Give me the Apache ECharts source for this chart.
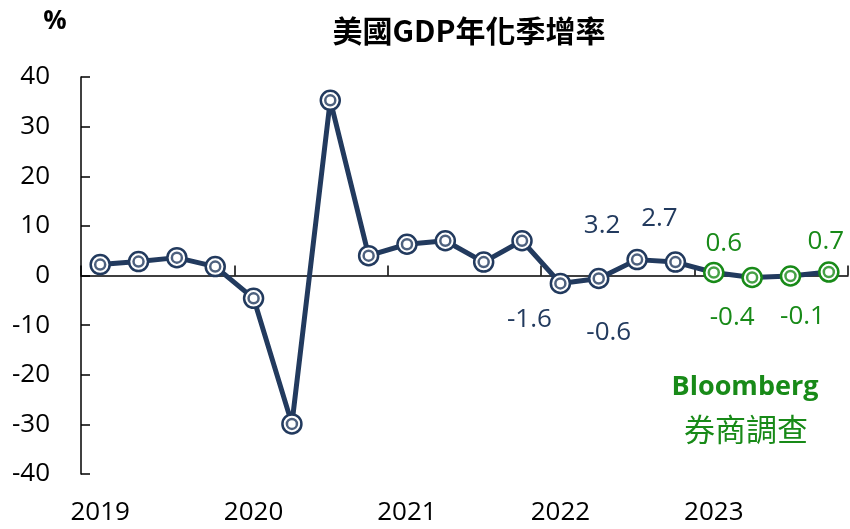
<!DOCTYPE html>
<html>
<head>
<meta charset="utf-8">
<script src="https://cdn.jsdelivr.net/npm/echarts@6/dist/echarts.min.js"></script>
<style>
  html, body { margin: 0; padding: 0; background: #fff; }
  #chart { width: 850px; height: 529px; }
</style>
</head>
<body>
<div id="chart"></div>
<script>
// quarters 2019Q1 .. 2023Q4
const quarters = [
  '2019Q1','2019Q2','2019Q3','2019Q4',
  '2020Q1','2020Q2','2020Q3','2020Q4',
  '2021Q1','2021Q2','2021Q3','2021Q4',
  '2022Q1','2022Q2','2022Q3','2022Q4',
  '2023Q1','2023Q2','2023Q3','2023Q4'
];
// annualized q/q growth, %
const growth = [2.2, 2.8, 3.6, 1.8, -4.6, -29.9, 35.3, 4.0, 6.3, 7.0, 2.7, 7.0,
  -1.6, -0.6, 3.2, 2.7, 0.6, -0.4, -0.1, 0.7];
const forecastFrom = 16;   // Bloomberg survey from 2023Q1
const labelled = [12, 13, 14, 15, 16, 17, 18, 19];
const labelOffsets = {12: [-31, 36], 13: [10, 54], 14: [-35, -34], 15: [-16, -44],
  16: [10, -29], 17: [-20, 40], 18: [12, 41], 19: [-3, -30]};

const NAVY = '#223a5e';
const GREEN = '#188a18';
const FONT = '"Open Sans", sans-serif';
const CJK = '"Noto Sans CJK TC", sans-serif';

const colorOf = (i) => i >= forecastFrom ? GREEN : NAVY;

const outerData = growth.map((v, i) => {
  const d = { value: v, itemStyle: { color: '#fff', borderColor: colorOf(i), borderWidth: 2.5 } };
  if (labelled.includes(i)) {
    d.label = {
      show: true, position: 'inside', offset: labelOffsets[i],
      formatter: String(v), color: colorOf(i),
      fontSize: 26, fontFamily: FONT
    };
  }
  return d;
});
const innerData = growth.map((v, i) => ({
  value: v, itemStyle: { color: '#fff', borderColor: colorOf(i), borderWidth: 2.5 }
}));

const myChart = echarts.init(document.getElementById('chart'));
const option = {
  animation: false,
  grid: { left: 81, right: 2, top: 77, bottom: 55, containLabel: false },
  xAxis: [
    {
      type: 'category', data: quarters, position: 'bottom', boundaryGap: true,
      axisLine: { show: false, onZero: false },
      axisTick: { show: false },
      axisLabel: {
        interval: 3, formatter: (v) => v.slice(0, 4),
        color: '#000', fontSize: 26, fontFamily: FONT, lineHeight: 26, margin: 26
      }
    },
    {
      type: 'category', data: quarters, position: 'bottom', boundaryGap: true,
      axisLine: { show: true, onZero: true, lineStyle: { color: '#000', width: 1.5 } },
      axisTick: { show: true, inside: true, length: 10, interval: 3, lineStyle: { color: '#000', width: 1.5 } },
      axisLabel: { show: false }
    }
  ],
  yAxis: {
    type: 'value', min: -40, max: 40, interval: 10,
    splitLine: { show: false },
    axisLine: { show: true, onZero: false, lineStyle: { color: '#000', width: 1.5 } },
    axisTick: { show: true, inside: true, length: 9, lineStyle: { color: '#000', width: 1.5 } },
    axisLabel: { color: '#000', fontSize: 26, fontFamily: FONT, margin: 31 }
  },
  series: [
    {
      type: 'line', xAxisIndex: 0, data: outerData,
      symbol: 'circle', symbolSize: 19,
      lineStyle: { color: NAVY, width: 5 },
      z: 2
    },
    {
      type: 'scatter', xAxisIndex: 0, data: innerData,
      symbol: 'circle', symbolSize: 10,
      z: 3, silent: true
    }
  ],
  graphic: [
    { type: 'text', x: 55, y: 22,
      style: { text: '%', font: 'bold 26px ' + FONT, fill: '#000',
        align: 'center', verticalAlign: 'middle' } },
    { type: 'text', x: 469, y: 31,
      style: { text: '美國GDP年化季增率', font: 'bold 30px ' + CJK, fill: '#000',
        align: 'center', verticalAlign: 'middle' } },
    { type: 'text', x: 745, y: 387,
      style: { text: 'Bloomberg', font: 'bold 27px ' + FONT, fill: GREEN,
        align: 'center', verticalAlign: 'middle' } },
    { type: 'text', x: 746, y: 429,
      style: { text: '券商調查', font: '31px ' + CJK, fill: GREEN,
        align: 'center', verticalAlign: 'middle' } }
  ]
};
myChart.setOption(option);
</script>
</body>
</html>
